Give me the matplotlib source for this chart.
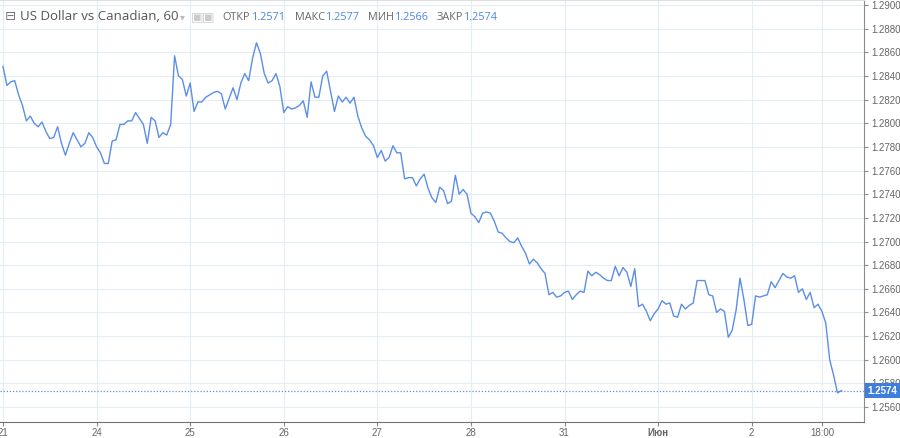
import numpy as np
import matplotlib
matplotlib.use("Agg")
import matplotlib.pyplot as plt

# hourly closes, USD/CAD, 60 min
close = [
    1.2848, 1.2832, 1.2835, 1.2836, 1.2824, 1.2815, 1.2802, 1.2806, 1.2800, 1.2797,
    1.2801, 1.2793, 1.2787, 1.2788, 1.2797, 1.2783, 1.2773, 1.2783, 1.2792, 1.2786,
    1.2780, 1.2783, 1.2792, 1.2788, 1.2780, 1.2775, 1.2766, 1.2766, 1.2785, 1.2786,
    1.2799, 1.2799, 1.2802, 1.2802, 1.2809, 1.2804, 1.2799, 1.2783, 1.2805, 1.2802,
    1.2788, 1.2792, 1.2790, 1.2799, 1.2857, 1.2840, 1.2837, 1.2823, 1.2834, 1.2810,
    1.2818, 1.2818, 1.2822, 1.2824, 1.2826, 1.2827, 1.2825, 1.2812, 1.2821, 1.2830,
    1.2820, 1.2834, 1.2842, 1.2836, 1.2855, 1.2868, 1.2859, 1.2842, 1.2834, 1.2836,
    1.2842, 1.2831, 1.2809, 1.2814, 1.2812, 1.2813, 1.2815, 1.2819, 1.2805, 1.2835,
    1.2822, 1.2822, 1.2840, 1.2844, 1.2827, 1.2810, 1.2823, 1.2818, 1.2822, 1.2817,
    1.2822, 1.2806, 1.2796, 1.2789, 1.2786, 1.2781, 1.2771, 1.2777, 1.2768, 1.2771,
    1.2781, 1.2775, 1.2775, 1.2753, 1.2754, 1.2754, 1.2747, 1.2753, 1.2757, 1.2745,
    1.2737, 1.2733, 1.2746, 1.2743, 1.2732, 1.2734, 1.2756, 1.2740, 1.2744, 1.2740,
    1.2724, 1.2721, 1.2716, 1.2724, 1.2725, 1.2724, 1.2717, 1.2708, 1.2707, 1.2703,
    1.2700, 1.2699, 1.2703, 1.2696, 1.2690, 1.2681, 1.2685, 1.2682, 1.2677, 1.2673,
    1.2655, 1.2657, 1.2653, 1.2654, 1.2657, 1.2658, 1.2651, 1.2655, 1.2658, 1.2657,
    1.2675, 1.2671, 1.2674, 1.2672, 1.2669, 1.2667, 1.2667, 1.2679, 1.2671, 1.2678,
    1.2674, 1.2662, 1.2677, 1.2645, 1.2647, 1.2641, 1.2633, 1.2639, 1.2643, 1.2650,
    1.2647, 1.2648, 1.2637, 1.2636, 1.2647, 1.2643, 1.2646, 1.2648, 1.2667, 1.2667,
    1.2667, 1.2655, 1.2654, 1.2640, 1.2643, 1.2641, 1.2619, 1.2625, 1.2642, 1.2669,
    1.2651, 1.2629, 1.2630, 1.2654, 1.2653, 1.2654, 1.2655, 1.2666, 1.2661, 1.2667,
    1.2673, 1.2670, 1.2669, 1.2671, 1.2657, 1.2660, 1.2651, 1.2657, 1.2644, 1.2647,
    1.2641, 1.2631, 1.2600, 1.2587, 1.2572, 1.2574,
]
tick_hours = [0, 24, 48, 72, 96, 120, 144, 168, 192, 210]
tick_labels = ["21", "24", "25", "26", "27", "28", "31", "Июн", "2", "18:00"]
y_ticks = np.arange(1.2560, 1.29001, 0.002)
last_price = 1.2574
ohlc_names = ["ОТКР", "МАКС", "МИН", "ЗАКР"]
ohlc_values = ["1.2571", "1.2577", "1.2566", "1.2574"]

LINE = "#5b8ee6"
GRID = "#e4edf4"
AXC = "#8c8c8c"
TXT = "#666666"

fig = plt.figure(figsize=(9, 4.38), dpi=100)
ax = fig.add_axes([0.0, 1 - 422 / 438, 864 / 900, 422 / 438])

x = np.arange(len(close))
ax.plot(x, close, color=LINE, lw=1.0, zorder=3)
ax.axhline(last_price, color=LINE, lw=0.9, ls=(0, (1, 1.5)), zorder=2)

ax.set_xlim(-0.77, 220.8)
ax.set_ylim(1.25474, 1.29042)

ax.yaxis.tick_right()
ax.set_yticks(y_ticks)
ax.set_yticklabels([f"{v:.4f}" for v in y_ticks])
ax.set_xticks(tick_hours)
ax.set_xticklabels(tick_labels)
for lab in ax.get_xticklabels():
    if lab.get_text() == "Июн":
        lab.set_fontweight("bold")

ax.grid(True, color=GRID, lw=0.8)
ax.tick_params(axis="both", colors=AXC, labelcolor=TXT, labelsize=7, length=3, width=0.8)
ax.tick_params(axis="y", pad=2)
ax.tick_params(axis="x", pad=1.5)
for lab in ax.get_xticklabels() + ax.get_yticklabels():
    lab.set_family(["Liberation Sans", "DejaVu Sans"])

ax.spines["left"].set_visible(False)
ax.spines["top"].set_color("#e0e0e0")
ax.spines["right"].set_color(AXC)
ax.spines["bottom"].set_color("#707070")

# last price label on the right axis
ax.annotate(f"{last_price:.4f}", xy=(1.0, last_price), xycoords=("axes fraction", "data"),
            xytext=(2.5, 0), textcoords="offset points", ha="left", va="center",
            fontsize=7, color="white", fontweight="bold", family="Liberation Sans",
            bbox=dict(boxstyle="square,pad=0.25", fc="#3f7fdc", ec="none"),
            annotation_clip=False, zorder=10)

# header
fam = ["Open Sans", "DejaVu Sans"]
fig.text(5 / 900, 1 - 17 / 438, "\u229f", fontsize=9.5, color="#777777", va="center", family="DejaVu Sans")
fig.text(20 / 900, 1 - 17 / 438, "US Dollar vs Canadian, 60", fontsize=9.5, color="#555555",
         va="center", family=fam)
fig.text(180 / 900, 1 - 17 / 438, "\u25be", fontsize=7, color="#bbbbbb", va="center", family="DejaVu Sans")
for xp in [191, 202]:
    fig.text(xp / 900, 1 - 17 / 438, "\u25a3", fontsize=9.5, color="#cccccc", va="center", family="DejaVu Sans")
name_x = [222, 295, 368, 437]
val_x = [252, 326, 395, 464]
for n, v, nx, vx in zip(ohlc_names, ohlc_values, name_x, val_x):
    fig.text(nx / 900, 1 - 17 / 438, n, fontsize=7.8, color="#666666", va="center", family=fam)
    fig.text(vx / 900, 1 - 17 / 438, v, fontsize=7.8, color="#4a86e0", va="center", family=fam)

fig.savefig("out.png", dpi=100)
